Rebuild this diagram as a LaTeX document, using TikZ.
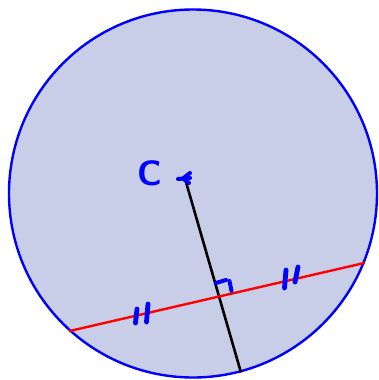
\documentclass[tikz,border=0pt]{standalone}
\usepackage{tikz}
\usetikzlibrary{positioning,calc}
\definecolor{discfill}{RGB}{200,205,232}

\begin{document}
\begin{tikzpicture}[x=1pt, y=-1pt, line cap=round,
    handmark/.style={blue, line width=4.8pt, line cap=round}]
    \useasboundingbox (0,0) rectangle (379,380);

    % Nodes
    \node (circ) [circle, draw=blue, line width=2.4pt, fill=discfill, minimum size=368pt, inner sep=0pt] at (193,193.5) {};
    \coordinate (ctr) at (185,178.5);
    \node (clabel) [text=blue, font=\fontsize{32}{32}\sffamily\bfseries, scale=1.1] at (150,173) {C};
    \coordinate (chordL) at (circ.228.2);
    \coordinate (chordR) at (circ.338.5);
    \coordinate (foot) at (circ.285);

    % Connections
    \draw[black, line width=2.6pt, line cap=butt] (ctr) -- (foot);
    \draw[red, line width=2.4pt, line cap=butt] (chordL) -- (chordR);

    % Marks
    \draw[handmark, line width=4pt] (178,179) -- (190,178);
    \draw[handmark, line width=4pt] (190,173) -- (183,178.5) -- (189,183);
    \draw[handmark, line width=4pt] (216,283) -- (226,280);
    \draw[handmark, line width=4pt] (229.5,281) -- (231.5,291);
    \draw[handmark] (137,309) -- (135.5,323);
    \draw[handmark] (148,304) -- (146.5,322);
    \draw[handmark] (286,270) -- (284.5,288);
    \draw[handmark] (298,267) -- (295,282);

\end{tikzpicture}
\end{document}
